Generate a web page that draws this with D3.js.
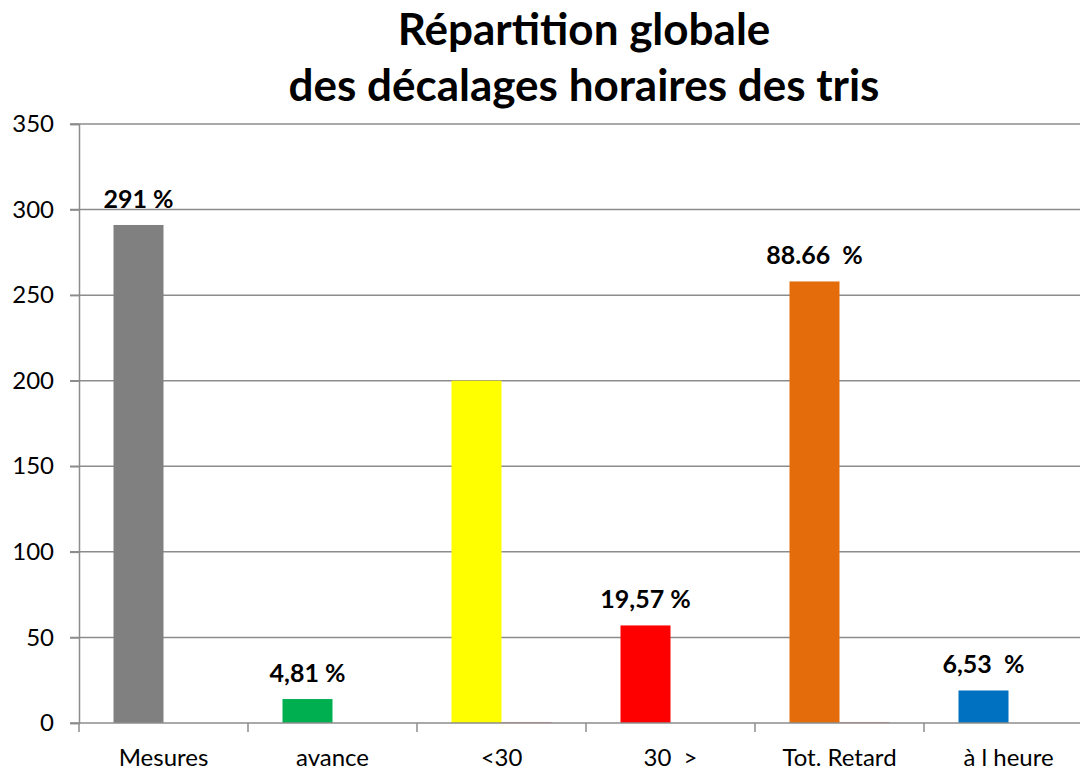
<!DOCTYPE html>
<html><head><meta charset="utf-8">
<script src="https://cdn.jsdelivr.net/npm/d3@7"></script>
<style>body{margin:0;background:#fff}svg{display:block}text{font-family:Lato,"Open Sans",sans-serif}</style>
</head><body>
<svg id="c" width="1080" height="770"></svg>
<script>
const categories = ["Mesures", "avance", "<30", "30  >", "Tot. Retard", "à l heure"];
const values = [291, 14, 200, 57, 258, 19];
const values2 = [0, 0, 0.6, 0, 0.6, 0];
const labels = ["291 %", "4,81 %", "", "19,57 %", "88.66  %", "6,53  %"];
const colors = ["#808080", "#00b050", "#ffff00", "#ff0000", "#e46c0a", "#0070c0"];
const yTicks = [0, 50, 100, 150, 200, 250, 300, 350];
const titleLines = ["Répartition globale", "des décalages horaires des tris"];

const svg = d3.select("#c");
const plotLeft = 79, bandW = 169, plotTop = 124, plotBottom = 723;
const x = d3.scaleBand().domain(categories).range([plotLeft, plotLeft + bandW * categories.length]).paddingInner(0).paddingOuter(0);
const y = d3.scaleLinear().domain([0, 350]).range([plotBottom, plotTop]);
const sub = d3.scaleBand().domain([0, 1]).range([0, bandW]).paddingInner(0).paddingOuter(0.69);

// gridlines
svg.append("g").selectAll("line").data(yTicks.filter(d => d > 0)).join("line")
  .attr("x1", plotLeft - 9).attr("x2", 1080).attr("y1", d => y(d)).attr("y2", d => y(d))
  .attr("stroke", "#8c8c8c").attr("stroke-width", 1.5);

// y axis
const ya = svg.append("g").attr("transform", `translate(${plotLeft},0)`)
  .call(d3.axisLeft(y).tickValues(yTicks).tickSize(9).tickPadding(16));
ya.select(".domain").attr("stroke", "#8c8c8c").attr("stroke-width", 1.5);
ya.selectAll(".tick line").attr("stroke", "#8c8c8c").attr("stroke-width", 1.5);
ya.selectAll(".tick text").attr("font-size", 24).attr("fill", "#000");

// bars series 1
svg.append("g").selectAll("rect").data(categories).join("rect")
  .attr("x", (d) => x(d) + sub(0)).attr("width", sub.bandwidth())
  .attr("y", (d, i) => y(values[i])).attr("height", (d, i) => y(0) - y(values[i]))
  .attr("fill", (d, i) => colors[i]);
// bars series 2
svg.append("g").selectAll("rect").data(categories).join("rect")
  .attr("x", (d) => x(d) + sub(1)).attr("width", sub.bandwidth())
  .attr("y", (d, i) => y(values2[i])).attr("height", (d, i) => y(0) - y(values2[i]))
  .attr("fill", "#d99594");

// x axis
const xa = svg.append("g").attr("transform", `translate(0,${plotBottom})`)
  .call(d3.axisBottom(x).tickSize(0).tickPadding(25));
xa.select(".domain").remove();
svg.append("line").attr("x1", plotLeft - 9).attr("x2", 1080).attr("y1", plotBottom).attr("y2", plotBottom)
  .attr("stroke", "#8c8c8c").attr("stroke-width", 1.5);
svg.append("g").selectAll("line").data(d3.range(categories.length + 1)).join("line")
  .attr("x1", i => plotLeft + i * bandW).attr("x2", i => plotLeft + i * bandW)
  .attr("y1", plotBottom).attr("y2", plotBottom + 9).attr("stroke", "#8c8c8c").attr("stroke-width", 1.5);
xa.selectAll(".tick text").attr("font-size", 24).attr("fill", "#000").attr("dy", "0.75em").style("white-space", "pre");

// value labels
svg.append("g").selectAll("text").data(categories).join("text")
  .attr("x", d => x(d) + sub(0) + sub.bandwidth() / 2)
  .attr("y", (d, i) => y(values[i]) - 17)
  .attr("text-anchor", "middle").attr("font-size", 25).attr("font-weight", "bold")
  .style("white-space", "pre")
  .text((d, i) => labels[i]);

// title
svg.append("g").selectAll("text").data(titleLines).join("text")
  .attr("x", 584).attr("y", (d, i) => 45 + i * 56)
  .attr("text-anchor", "middle").attr("font-size", 44).attr("font-weight", "bold")
  .text(d => d);
</script>
</body></html>
